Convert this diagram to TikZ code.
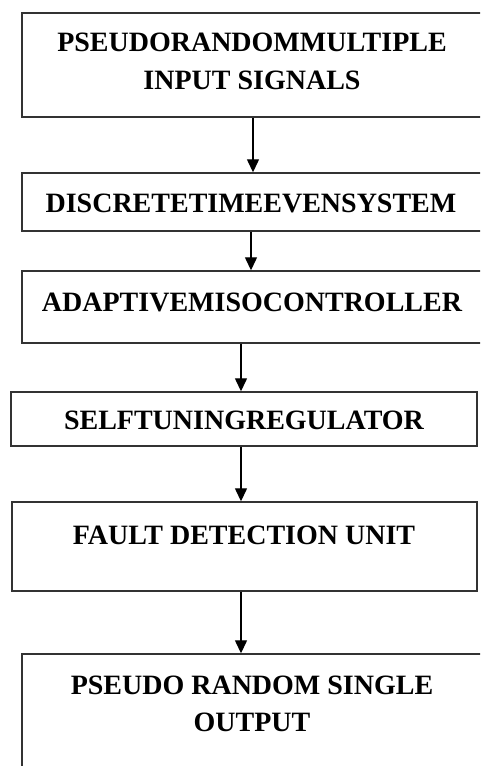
\documentclass[tikz,border=0pt]{standalone}
\usepackage{fontspec}
\setmainfont{Liberation Serif}
\usepackage{tikz}
\usetikzlibrary{arrows.meta}
\usetikzlibrary{positioning}

\begin{document}
\begin{tikzpicture}[x=1pt,y=-1pt,
  box/.style={draw={rgb,255:red,51;green,51;blue,51},line width=1.4pt,rectangle,inner sep=0pt},
  lbl/.style={inner sep=0pt,align=center,font=\fontsize{28}{37.5}\selectfont\bfseries},
  flow/.style={draw=black,line width=1.3pt,-{Triangle[width=12pt,length=13pt]}}]
  \useasboundingbox (0,0) rectangle (480,766);
  \clip (0,0) rectangle (480,766);

  %Shape: Rectangle [id:b1]
  \node [box,minimum width=462pt,minimum height=104pt] (b1) at (253,65) {};
  %Shape: Rectangle [id:b2]
  \node [box,minimum width=462pt,minimum height=58pt] (b2) at (253,202) {};
  %Shape: Rectangle [id:b3]
  \node [box,minimum width=462pt,minimum height=72pt] (b3) at (253,307) {};
  %Shape: Rectangle [id:b4]
  \node [box,minimum width=466pt,minimum height=54pt] (b4) at (244,419) {};
  %Shape: Rectangle [id:b5]
  \node [box,minimum width=465pt,minimum height=89pt] (b5) at (244.5,546.5) {};
  %Shape: Rectangle [id:b6]
  \node [box,minimum width=462pt,minimum height=140pt] (b6) at (253,724) {};

  % Text Node
  \node [lbl] (t1) at (252,61.5) {PSEUDORANDOMMULTIPLE\\INPUT SIGNALS};
  % Text Node
  \node [lbl] (t2) at (251,203) {DISCRETETIMEEVENSYSTEM};
  % Text Node
  \node [lbl] (t3) at (252,302) {ADAPTIVEMISOCONTROLLER};
  % Text Node
  \node [lbl] (t4) at (244,420) {SELFTUNINGREGULATOR};
  % Text Node
  \node [lbl] (t5) at (244,535) {FAULT DETECTION UNIT};
  % Text Node
  \node [lbl] (t6) at (252,704) {PSEUDO RANDOM SINGLE\\OUTPUT};

  %Straight Lines
  \draw [flow] (b1.south) -- (b2.north);
  \draw [flow] ([xshift=-2pt]b2.south) -- ([xshift=-2pt]b3.north);
  \draw [flow] ([xshift=-12pt]b3.south) -- ([xshift=-3pt]b4.north);
  \draw [flow] ([xshift=-3pt]b4.south) -- ([xshift=-3.5pt]b5.north);
  \draw [flow] ([xshift=-3.5pt]b5.south) -- ([xshift=-12pt]b6.north);
\end{tikzpicture}
\end{document}
